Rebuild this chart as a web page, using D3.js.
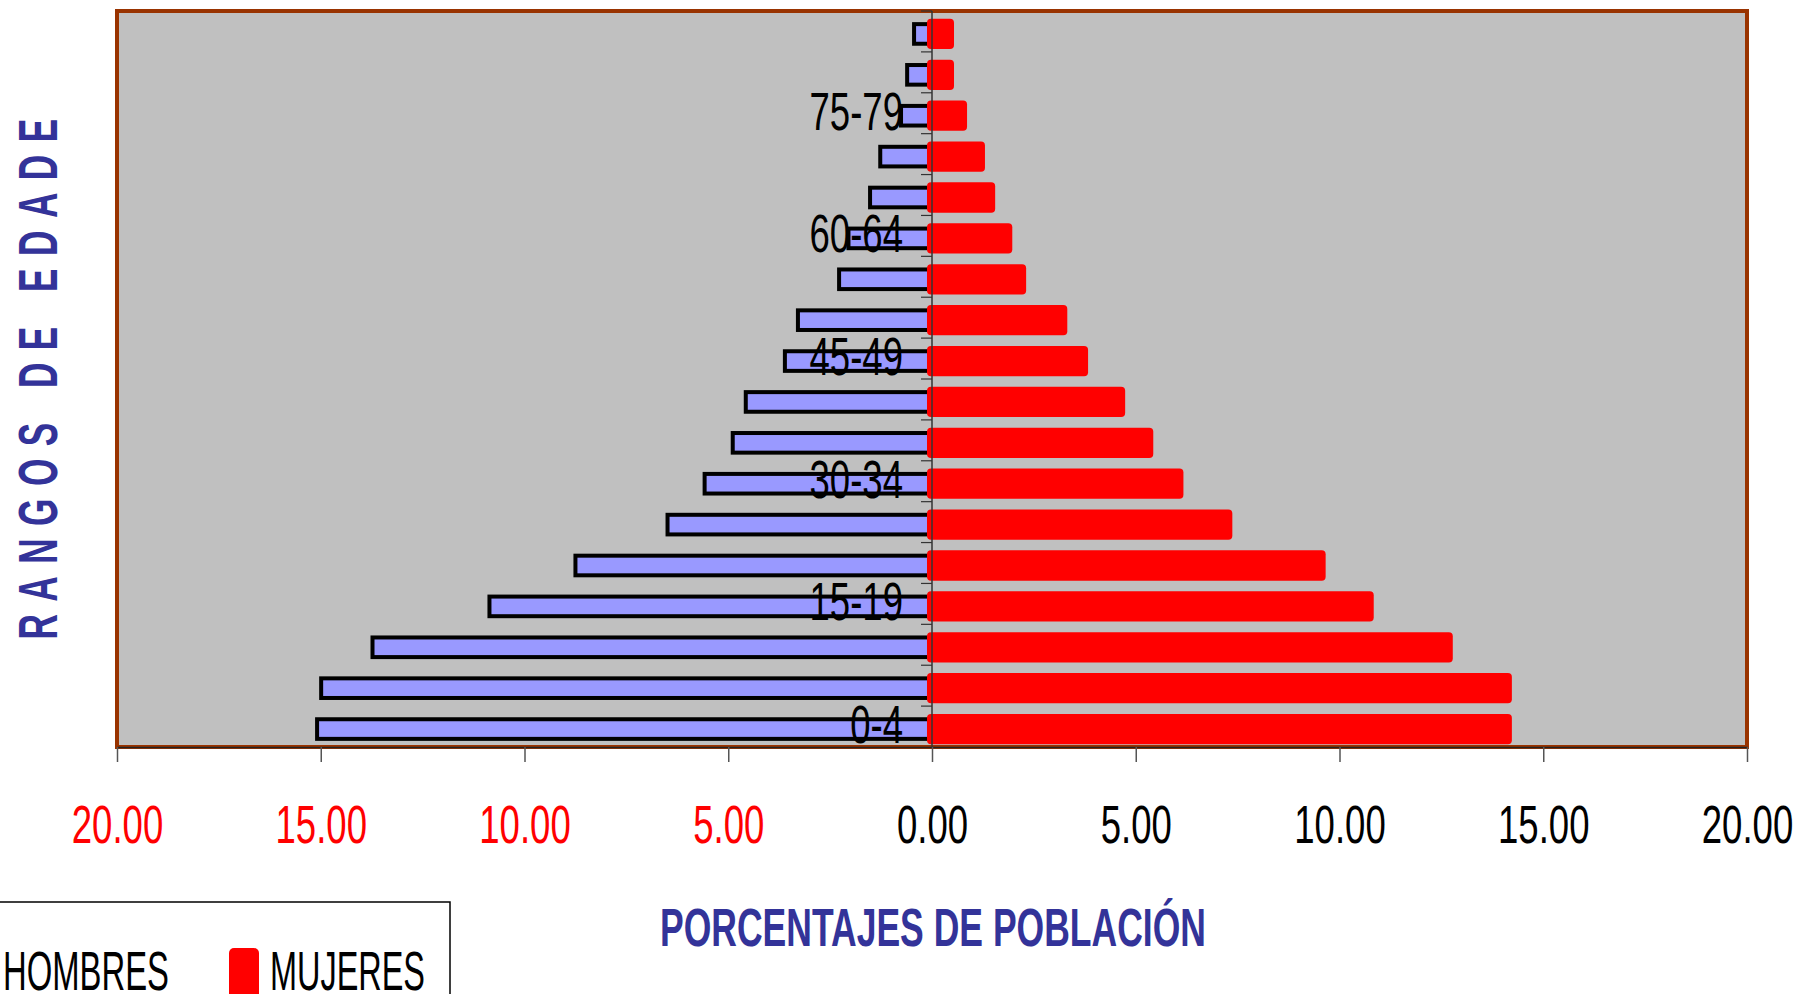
<!DOCTYPE html>
<html>
<head>
<meta charset="utf-8">
<script src="https://cdn.jsdelivr.net/npm/d3@7"></script>
<style>
  body { margin: 0; background: #fff; overflow: hidden; }
</style>
</head>
<body>
<div id="chart"></div>
<script>
// age groups, bottom to top
const categories = ["0-4", "5-9", "10-14", "15-19", "20-24", "25-29", "30-34", "35-39", "40-44",
  "45-49", "50-54", "55-59", "60-64", "65-69", "70-74", "75-79", "80-84", "85+"];
const hombres = [15.09, 14.99, 13.73, 10.86, 8.75, 6.49, 5.58, 4.89, 4.57,
  3.61, 3.29, 2.28, 2.05, 1.52, 1.27, 0.76, 0.61, 0.44];
const mujeres = [14.23, 14.23, 12.78, 10.84, 9.66, 7.37, 6.17, 5.43, 4.74,
  3.83, 3.32, 2.31, 1.97, 1.55, 1.30, 0.86, 0.54, 0.54];
const xTicks = [-20, -15, -10, -5, 0, 5, 10, 15, 20];
const yLabels = ["0-4", "15-19", "30-34", "45-49", "60-64", "75-79"];

const FONT = "'Liberation Sans', Arial, sans-serif";
const W = 1797, H = 994;
const plot = { left: 117, right: 1747, top: 11, bottom: 747 };

const svg = d3.select("#chart").append("svg")
  .attr("width", W)
  .attr("height", H);

const x = d3.scaleLinear().domain([-20, 20]).range([plot.left, plot.right]);
const y = d3.scaleBand()
  .domain(categories.slice().reverse())
  .range([plot.top, plot.bottom]);

const data = categories.map((c, i) => ({ cat: c, h: hombres[i], m: mujeres[i] }));

// plot area
svg.append("rect")
  .attr("x", plot.left)
  .attr("y", plot.top)
  .attr("width", plot.right - plot.left)
  .attr("height", plot.bottom - plot.top)
  .attr("fill", "#c0c0c0")
  .attr("stroke", "#993300")
  .attr("stroke-width", 4);

const barShift = 2.5;

// men bars
const menH = y.bandwidth() * 0.48;
svg.selectAll(".men")
  .data(data)
  .join("rect")
  .attr("class", "men")
  .attr("x", (d) => x(-d.h))
  .attr("y", (d) => y(d.cat) + (y.bandwidth() - menH) / 2 + barShift)
  .attr("width", (d) => x(0) - x(-d.h))
  .attr("height", menH)
  .attr("fill", "#9999ff")
  .attr("stroke", "#000")
  .attr("stroke-width", 4);

// women bars
const womH = y.bandwidth() * 0.74;
svg.selectAll(".women")
  .data(data)
  .join("rect")
  .attr("class", "women")
  .attr("x", x(0) - 5)
  .attr("y", (d) => y(d.cat) + (y.bandwidth() - womH) / 2 + barShift)
  .attr("width", (d) => x(d.m) - x(0) + 5)
  .attr("height", womH)
  .attr("rx", 4)
  .attr("fill", "#ff0000");

// X axis
const xAxis = svg.append("g")
  .attr("transform", `translate(0,${plot.bottom})`)
  .call(d3.axisBottom(x)
    .tickValues(xTicks)
    .tickSize(15)
    .tickSizeOuter(0)
    .tickPadding(43)
    .tickFormat((d) => Math.abs(d).toFixed(2)));
xAxis.select(".domain").attr("stroke", "#222").attr("stroke-width", 1.5);
xAxis.selectAll(".tick line").attr("stroke", "#555").attr("stroke-width", 1.5);
xAxis.selectAll(".tick text")
  .attr("font-family", FONT)
  .attr("font-size", 53)
  .attr("fill", (d) => (d < 0 ? "#ff0000" : "#000"))
  .attr("transform", "scale(0.69,1)");

// zero line + category ticks
svg.append("line")
  .attr("x1", x(0)).attr("x2", x(0))
  .attr("y1", plot.top).attr("y2", plot.bottom)
  .attr("stroke", "#333")
  .attr("stroke-width", 1.5);

svg.selectAll(".cat-tick")
  .data(categories)
  .join("line")
  .attr("class", "cat-tick")
  .attr("x1", x(0) - 11).attr("x2", x(0))
  .attr("y1", (d) => y(d)).attr("y2", (d) => y(d))
  .attr("stroke", "#333")
  .attr("stroke-width", 1.2);

// Y axis labels
const yAxis = svg.append("g")
  .attr("transform", `translate(${x(0)},0)`)
  .call(d3.axisLeft(y).tickValues(yLabels).tickSize(0).tickPadding(29));
yAxis.select(".domain").remove();
yAxis.selectAll("text")
  .attr("font-family", FONT)
  .attr("font-size", 53)
  .attr("fill", "#000")
  .attr("x", -29 / 0.69)
  .attr("dy", "0.31em")
  .attr("transform", "scale(0.69,1)");

// axis titles
svg.append("text")
  .attr("transform", "translate(57,373) rotate(-90) scale(0.64,1)")
  .attr("text-anchor", "middle")
  .attr("font-family", FONT)
  .attr("font-weight", "bold")
  .attr("font-size", 55)
  .attr("letter-spacing", 19.5)
  .attr("fill", "#333399")
  .text("RANGOS DE EDADE");

svg.append("text")
  .attr("x", 933)
  .attr("y", 946)
  .attr("text-anchor", "middle")
  .attr("font-family", FONT)
  .attr("font-weight", "bold")
  .attr("font-size", 54.5)
  .attr("textLength", 546)
  .attr("lengthAdjust", "spacingAndGlyphs")
  .attr("fill", "#333399")
  .text("PORCENTAJES DE POBLACIÓN");

// legend
const legend = svg.append("g");
legend.append("rect")
  .attr("x", -2).attr("y", 902)
  .attr("width", 452).attr("height", 120)
  .attr("fill", "#fff")
  .attr("stroke", "#000")
  .attr("stroke-width", 1.5);
legend.append("rect")
  .attr("x", -40).attr("y", 948)
  .attr("width", 30).attr("height", 50)
  .attr("fill", "#9999ff").attr("stroke", "#000").attr("stroke-width", 4);
legend.append("text")
  .attr("x", 3).attr("y", 990)
  .attr("font-family", FONT).attr("font-size", 55)
  .attr("textLength", 166).attr("lengthAdjust", "spacingAndGlyphs")
  .text("HOMBRES");
legend.append("rect")
  .attr("x", 229).attr("y", 948)
  .attr("width", 30).attr("height", 50)
  .attr("rx", 5)
  .attr("fill", "#ff0000");
legend.append("text")
  .attr("x", 270).attr("y", 990)
  .attr("font-family", FONT).attr("font-size", 55)
  .attr("textLength", 155).attr("lengthAdjust", "spacingAndGlyphs")
  .text("MUJERES");
</script>
</body>
</html>
